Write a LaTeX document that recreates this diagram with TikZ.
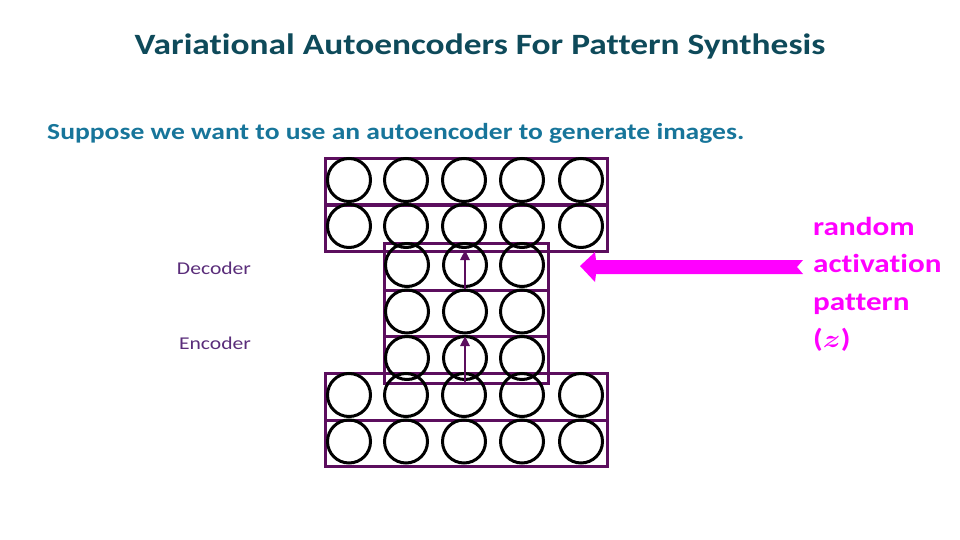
\documentclass[tikz,border=0pt]{standalone}
\usepackage{graphicx}
\usepackage{fontspec}
\setmainfont[Ligatures={NoCommon}]{Carlito}
\usetikzlibrary{arrows.meta}
\definecolor{titlecol}{HTML}{0E4A5A}
\definecolor{subcol}{HTML}{17759A}
\definecolor{labcol}{HTML}{5A2D7A}
\definecolor{layercol}{HTML}{5C0E5E}
\definecolor{magentacol}{HTML}{FF00FF}
\newcommand{\wide}[1]{\scalebox{1.2}[1]{#1}}
\begin{document}
\begin{tikzpicture}[x=1pt,y=-1pt,
  layer/.style={draw=layercol, line width=3pt, minimum width=#1, minimum height=46.5pt, inner sep=0pt, anchor=north west},
  neuron/.style={circle, draw=black, line width=3pt, minimum size=43pt, inner sep=0pt},
  flow/.style={draw=layercol, line width=2.5pt, -{Triangle[width=9pt,length=10pt]}},
  sidelabel/.style={font=\fontsize{18}{22}\selectfont, text=labcol}]
\useasboundingbox (0,0) rectangle (960,540);
% titles
\node[font=\fontsize{29.5}{34}\selectfont\bfseries, text=titlecol] (title) at (480,46) {\wide{Variational Autoencoders For Pattern Synthesis}};
\node[anchor=west, inner sep=0pt, font=\fontsize{23}{28}\selectfont\bfseries, text=subcol] (sub) at (47,133) {\wide{Suppose we want to use an autoencoder to generate images.}};
% layer rows
\node[layer=282pt] (top1) at (324,157) {};
\node[layer=282pt] (top2) at (324,203) {};
\node[layer=164pt] (mid1) at (383,242) {};
\node[layer=164pt] (mid2) at (383,288.5) {};
\node[layer=164pt] (mid3) at (383,335) {};
\node[layer=282pt] (bot1) at (324,372) {};
\node[layer=282pt] (bot2) at (324,418.5) {};
% neurons
\foreach \x [count=\i] in {349,406,464,522,581} {
  \node[neuron] (ta\i) at (\x,180) {};
  \node[neuron] (tb\i) at (\x,226) {};
  \node[neuron] (ba\i) at (\x,395) {};
  \node[neuron] (bb\i) at (\x,441.5) {};
}
\foreach \x [count=\i] in {407,465,522} {
  \node[neuron] (ma\i) at (\x,265) {};
  \node[neuron] (mb\i) at (\x,311.5) {};
  \node[neuron] (mc\i) at (\x,358) {};
}
% flow arrows
\coordinate (a1s) at (465,288.5);
\coordinate (a1e) at (465,250);
\coordinate (a2s) at (465,381.5);
\coordinate (a2e) at (465,336);
\draw[flow] (a1s) -- (a1e);
\draw[flow] (a2s) -- (a2e);
% labels
\node[sidelabel] (dec) at (214,268) {\wide{Decoder}};
\node[sidelabel] (enc) at (215,343) {\wide{Encoder}};
% random activation pattern
\node[anchor=north west, align=left, inner sep=0pt, font=\fontsize{26}{37.5}\selectfont\bfseries\boldmath, text=magentacol] (rap) at (813,217) {\wide{random}\\\wide{activation}\\\wide{pattern}\\\wide{($z$)}};
\coordinate (mtip) at (580,266);
\fill[magentacol] (mtip) -- ++(15,-14) -- ++(1,8) -- ++(207,0) -- ++(-6,7) -- ++(6,7) -- ++(-207,0) -- ++(-1,8) -- cycle;
\end{tikzpicture}
\end{document}
